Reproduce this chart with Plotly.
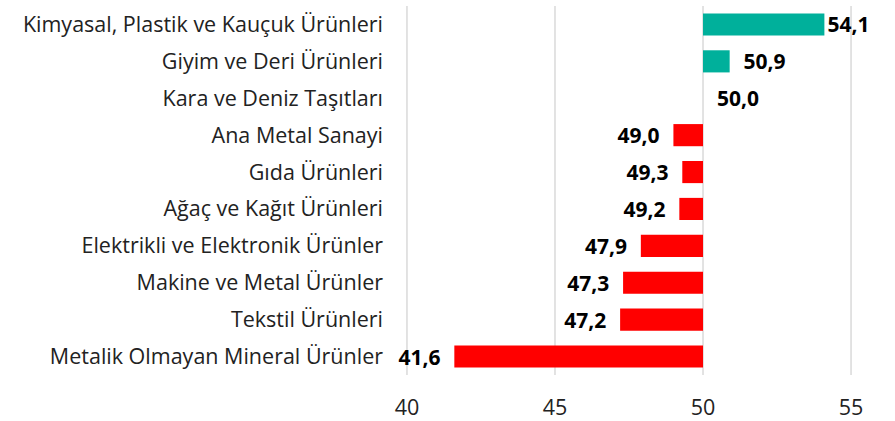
import plotly.graph_objects as go

categories = [
    "Kimyasal, Plastik ve Kauçuk Ürünleri",
    "Giyim ve Deri Ürünleri",
    "Kara ve Deniz Taşıtları",
    "Ana Metal Sanayi",
    "Gıda Ürünleri",
    "Ağaç ve Kağıt Ürünleri",
    "Elektrikli ve Elektronik Ürünler",
    "Makine ve Metal Ürünler",
    "Tekstil Ürünleri",
    "Metalik Olmayan Mineral Ürünler",
]
values = [54.1, 50.9, 50.0, 49.0, 49.3, 49.2, 47.9, 47.3, 47.2, 41.6]
threshold = 50
tick_vals = [40, 45, 50, 55]

colors = ["#00B09B" if v >= threshold else "#FF0000" for v in values]
texts = [f"{v:.1f}".replace(".", ",") for v in values]
sp = "\u00a0\u00a0"
templates = []
for i, v in enumerate(values):
    if i == 0:
        templates.append("%{text}")
    elif v >= threshold:
        templates.append(sp + "%{text}")
    else:
        templates.append("%{text}" + sp)

fig = go.Figure(go.Bar(
    y=categories,
    x=[v - threshold for v in values],
    base=threshold,
    orientation="h",
    marker=dict(color=colors, line=dict(width=0)),
    width=0.6,
    text=texts,
    texttemplate=templates,
    textposition="outside",
    textfont=dict(family="Open Sans", size=21, color="#000000", weight="bold"),
    cliponaxis=False,
))

for t in tick_vals:
    fig.add_shape(type="line", xref="x", yref="paper", x0=t, x1=t, y0=0, y1=1,
                  line=dict(color="#D9D9D9", width=1.5), layer="below")

fig.update_layout(
    width=895, height=421,
    margin=dict(l=404, r=41, t=6, b=46),
    paper_bgcolor="white", plot_bgcolor="white",
    showlegend=False,
    font=dict(family="Open Sans", size=21.5, color="#222222"),
    xaxis=dict(range=[39.9, 55.1], tickvals=tick_vals, showgrid=False,
               zeroline=False, showline=False, ticks="", automargin=False,
               ticklabelstandoff=17, tickfont=dict(size=21.5, color="#222222")),
    yaxis=dict(autorange="reversed", showgrid=False, ticks="", ticklabelstandoff=20,
               automargin=False, tickfont=dict(size=21.5, color="#222222")),
    uniformtext=dict(minsize=21, mode="show"),
)

fig.write_html("out.html")
